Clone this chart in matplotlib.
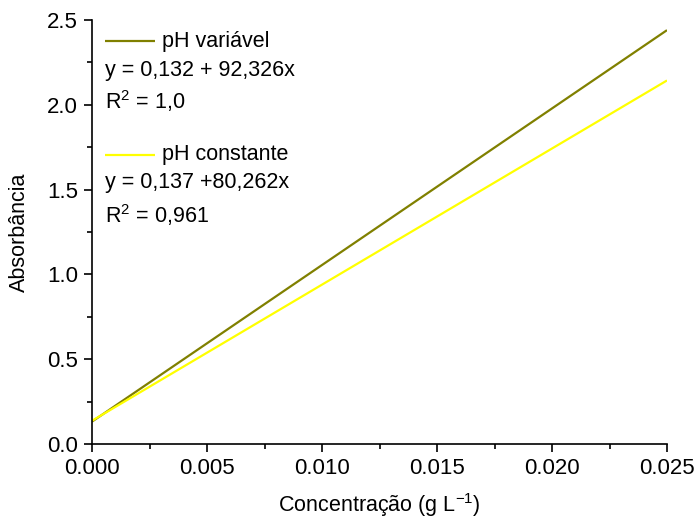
import numpy as np
import matplotlib
matplotlib.use("Agg")
import matplotlib.pyplot as plt
from matplotlib.ticker import MultipleLocator

plt.rcParams['font.family'] = ['Liberation Sans', 'DejaVu Sans']
plt.rcParams['mathtext.fontset'] = 'custom'
plt.rcParams['mathtext.rm'] = 'Liberation Sans'
plt.rcParams['mathtext.it'] = 'Liberation Sans'

# Linear fits: absorbance = intercept + slope * concentration
series_names = ["pH variável", "pH constante"]
intercepts = [0.132, 0.137]
slopes = [92.326, 80.262]
equations = ["y = 0,132 + 92,326x", "y = 0,137 +80,262x"]
r2_labels = ["1,0", "0,961"]
colors = ["#808000", "#FFFF00"]
conc_range = [0.0, 0.025]

fig = plt.figure(figsize=(6.98, 5.24), dpi=100)
ax = fig.add_axes([92/698, 1-444/524, 575/698, 424/524])

x = np.array(conc_range)
for b, m, c in zip(intercepts, slopes, colors):
    ax.plot(x, b + m * x, color=c, lw=1.6, solid_capstyle='butt')

ax.set_xlim(0, 0.025)
ax.set_ylim(0, 2.5)
ax.xaxis.set_major_locator(MultipleLocator(0.005))
ax.xaxis.set_minor_locator(MultipleLocator(0.0025))
ax.yaxis.set_major_locator(MultipleLocator(0.5))
ax.yaxis.set_minor_locator(MultipleLocator(0.25))
ax.xaxis.set_major_formatter(plt.FuncFormatter(lambda v, p: f"{v:.3f}"))
ax.yaxis.set_major_formatter(plt.FuncFormatter(lambda v, p: f"{v:.1f}"))

for s in ['top', 'right']:
    ax.spines[s].set_visible(False)
for s in ['left', 'bottom']:
    ax.spines[s].set_linewidth(1.2)
ax.tick_params(which='major', direction='out', length=6, width=1.2,
               labelsize=16, pad=4)
ax.tick_params(which='minor', direction='out', length=3.5, width=1.2)

ax.set_xlabel("Concentração (g L$^{\\mathregular{-1}}$)", fontsize=15.5,
              labelpad=9)
ax.set_ylabel("Absorbância", fontsize=15.5, labelpad=12)

# Legend block with fit equations
tr = ax.transAxes
x0, x1, xt = 0.0226, 0.1096, 0.1217
blocks = [(0.950, 0.882, 0.809), (0.682, 0.616, 0.540)]
for (yl, ye, yr), name, eq, r2, c in zip(blocks, series_names, equations,
                                         r2_labels, colors):
    ax.plot([x0, x1], [yl, yl], color=c, lw=1.6, transform=tr,
            solid_capstyle='butt', clip_on=False)
    ax.text(xt, yl, name, transform=tr, fontsize=15.5, va='center', ha='left')
    ax.text(x0, ye, eq, transform=tr, fontsize=15.5, va='center', ha='left')
    ax.text(x0, yr, f"R$^2$ = {r2}", transform=tr, fontsize=15.5,
            va='center', ha='left')

fig.savefig("out.png", dpi=100)
